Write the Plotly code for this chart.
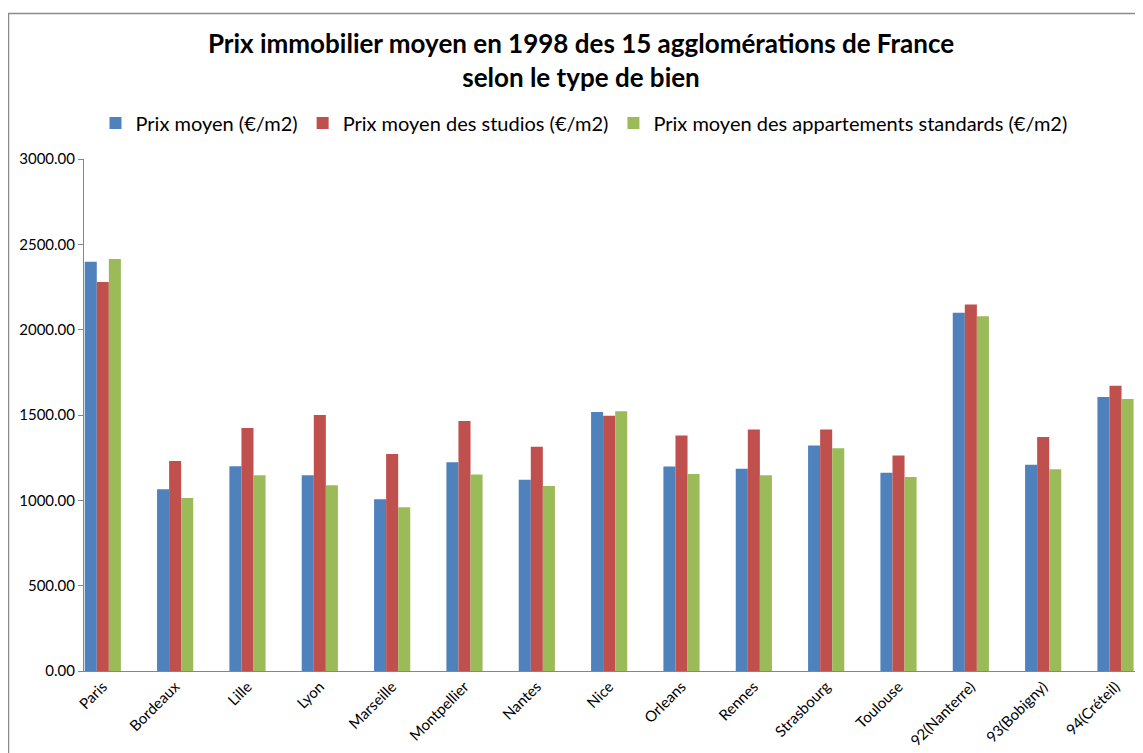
import plotly.graph_objects as go

categories = ["Paris", "Bordeaux", "Lille", "Lyon", "Marseille", "Montpellier", "Nantes",
              "Nice", "Orleans", "Rennes", "Strasbourg", "Toulouse", "92(Nanterre)",
              "93(Bobigny)", "94(Créteil)"]
prix_moyen = [2398, 1065, 1199, 1147, 1006, 1223, 1121, 1518, 1198, 1185, 1322, 1162, 2099, 1209, 1605]
prix_studios = [2280, 1230, 1424, 1500, 1271, 1465, 1314, 1495, 1380, 1415, 1415, 1262, 2148, 1371, 1672]
prix_standards = [2414, 1013, 1147, 1088, 959, 1152, 1084, 1522, 1155, 1147, 1305, 1137, 2078, 1182, 1594]

series_names = ["Prix moyen (€/m2)", "Prix moyen des studios (€/m2)",
                "Prix moyen des appartements standards (€/m2)"]
colors = ["#4F81BD", "#C0504D", "#9BBB59"]

FONT = "Lato"

fig = go.Figure()
for name, vals, col in zip(series_names, [prix_moyen, prix_studios, prix_standards], colors):
    fig.add_trace(go.Bar(x=categories, y=vals, name=name,
                         marker=dict(color=col, line=dict(width=0))))

OFF = 8  # page body margin
W, H = 1143 - OFF, 753 - OFF
L, R, T = 84 - OFF, 0, 159 - OFF
ph = 512
B = H - T - ph
pw = W - L - R

def px_x(x):  # page pixel -> paper x
    return (x - OFF - L) / pw

def px_y(y):  # page pixel -> paper y
    return 1 - (y - OFF - T) / ph

fig.update_layout(
    width=W, height=H,
    margin=dict(l=L, r=R, t=T, b=B, autoexpand=False),
    paper_bgcolor="white", plot_bgcolor="white",
    barmode="group", bargap=0.5, bargroupgap=0,
    font=dict(family=FONT, color="#000000"),
    title=dict(text="<b>Prix immobilier moyen en 1998 des 15 agglomérations de France<br>selon le type de bien</b>",
               x=(581 - OFF) / W, xanchor="center", y=1 - (53 - OFF) / H, yanchor="middle",
               font=dict(size=26, family=FONT, color="#000000")),
    legend=dict(orientation="h", x=px_x(584), xanchor="center",
                y=px_y(123), yanchor="middle",
                font=dict(size=20, family=FONT, color="#000000"),
                itemwidth=30, traceorder="normal"),
    xaxis=dict(range=[-0.26, 14.38], showline=True, linecolor="#868686", linewidth=1,
               ticks="", tickangle=-45, tickfont=dict(size=15, family=FONT, color="#000000"),
               showgrid=False, zeroline=False),
    yaxis=dict(range=[0, 3000], dtick=500, tickformat=".2f", showline=True,
               linecolor="#868686", linewidth=1, ticks="outside", ticklen=5,
               tickcolor="#868686", tickfont=dict(size=15, family=FONT, color="#000000"),
               showgrid=False, zeroline=False),
)

# outer chart border
fig.add_shape(type="rect", xref="paper", yref="paper",
              x0=px_x(8.5), x1=px_x(1160),
              y0=px_y(770), y1=px_y(13.5),
              line=dict(color="#8C8C8C", width=1.5), fillcolor="rgba(0,0,0,0)", layer="below")

fig.write_html("out.html")
